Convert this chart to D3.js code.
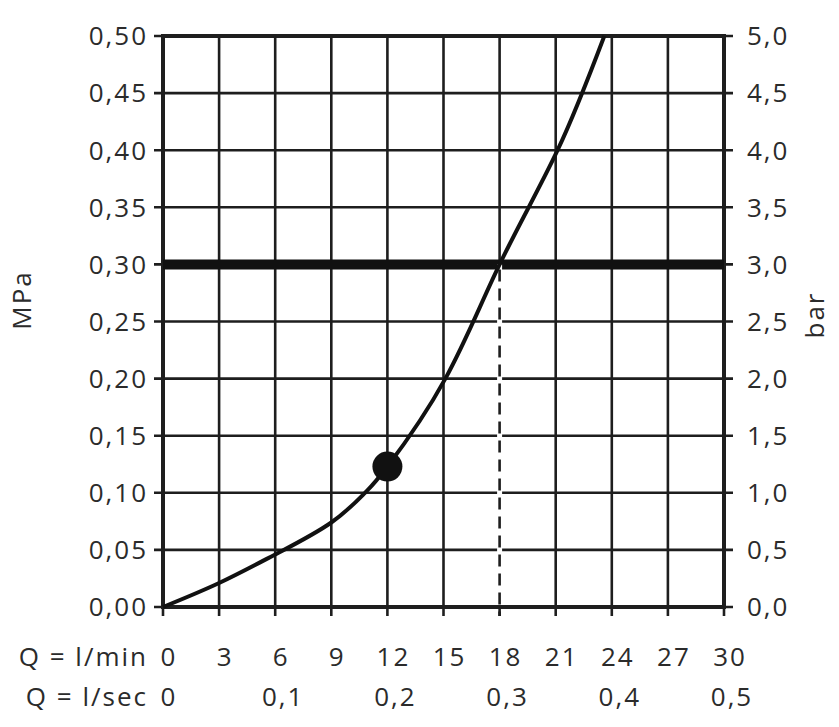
<!DOCTYPE html>
<html>
<head>
<meta charset="utf-8">
<script src="https://cdn.jsdelivr.net/npm/d3@7"></script>
<style>
  body { margin: 0; background: #fff; }
  svg text { font-family: "Open Sans", sans-serif; fill: #2b2b2b; font-size: 26px; letter-spacing: 2px; }
</style>
</head>
<body>
<svg id="chart" width="839" height="727"></svg>
<script>
// Flow (l/min) vs pressure (MPa)
const flowLmin = [0, 3, 6, 9, 10.8, 12, 15.1, 18, 21.1, 23.6];
const pressMPa = [0, 0.021, 0.046, 0.074, 0.100, 0.123, 0.20, 0.30, 0.40, 0.50];

const minTicks = [0, 3, 6, 9, 12, 15, 18, 21, 24, 27, 30];
const secTicks = [0, 0.1, 0.2, 0.3, 0.4, 0.5];
const mpaTicks = [0, 0.05, 0.10, 0.15, 0.20, 0.25, 0.30, 0.35, 0.40, 0.45, 0.50];
const barTicks = [0, 0.5, 1.0, 1.5, 2.0, 2.5, 3.0, 3.5, 4.0, 4.5, 5.0];

const limitMPa = 0.30;
const limitFlow = 18;
const markerPoint = { q: 12, p: 0.123 };

const L = 163, R = 724, T = 36, B = 607;
const x = d3.scaleLinear().domain([0, 30]).range([L, R]);
const y = d3.scaleLinear().domain([0, 0.5]).range([B, T]);
const yBar = d3.scaleLinear().domain([0, 5]).range([B, T]);
const fmt2 = v => v.toFixed(2).replace('.', ',');
const fmt1 = v => v.toFixed(1).replace('.', ',');
const ink = '#1e1e1e';

const svg = d3.select('#chart');

// grid
const grid = svg.append('g').attr('stroke', ink).attr('stroke-width', 2.6);
grid.selectAll('.v').data(minTicks).join('line')
  .attr('x1', d => x(d)).attr('x2', d => x(d)).attr('y1', T).attr('y2', B + 9);
grid.selectAll('.h').data(mpaTicks).join('line')
  .attr('x1', L - 9).attr('x2', R + 9).attr('y1', d => y(d)).attr('y2', d => y(d));

// frame
svg.append('rect').attr('x', L).attr('y', T).attr('width', R - L).attr('height', B - T)
  .attr('fill', 'none').attr('stroke', ink).attr('stroke-width', 4);

// left axis labels (MPa)
svg.append('g').selectAll('text').data(mpaTicks).join('text')
  .attr('x', 148).attr('y', d => y(d)).attr('dy', '0.36em')
  .attr('text-anchor', 'end').text(fmt2);

// right axis labels (bar)
svg.append('g').selectAll('text').data(barTicks).join('text')
  .attr('x', 747).attr('y', d => yBar(d)).attr('dy', '0.36em')
  .text(fmt1);

// bottom labels
svg.append('text').attr('x', 148).attr('y', 657).attr('dy', '0.36em')
  .attr('text-anchor', 'end').text('Q = l/min');
svg.append('g').selectAll('text').data(minTicks).join('text')
  .attr('x', d => x(d) + 6).attr('y', 657).attr('dy', '0.36em')
  .attr('text-anchor', 'middle').text(d => d);

svg.append('text').attr('x', 148).attr('y', 697).attr('dy', '0.36em')
  .attr('text-anchor', 'end').text('Q = l/sec');
svg.append('g').selectAll('text').data(secTicks).join('text')
  .attr('x', d => x(d * 60) + (d === 0 ? 6 : 8)).attr('y', 697).attr('dy', '0.36em')
  .attr('text-anchor', 'middle')
  .text(d => d === 0 ? '0' : fmt1(d));

// axis titles
svg.append('text').attr('transform', 'translate(31,300) rotate(-90)')
  .attr('text-anchor', 'middle').text('MPa');
svg.append('text').attr('transform', 'translate(824,315) rotate(-90)')
  .attr('text-anchor', 'middle').text('bar');

// limit line + dashed drop
svg.append('line').attr('x1', L).attr('x2', R)
  .attr('y1', y(limitMPa)).attr('y2', y(limitMPa))
  .attr('stroke', '#111').attr('stroke-width', 10);
svg.append('line').attr('x1', x(limitFlow)).attr('x2', x(limitFlow))
  .attr('y1', y(limitMPa)).attr('y2', B - 2)
  .attr('stroke', '#fff').attr('stroke-width', 5);
svg.append('line').attr('x1', x(limitFlow)).attr('x2', x(limitFlow))
  .attr('y1', y(limitMPa) + 5).attr('y2', B + 9)
  .attr('stroke', ink).attr('stroke-width', 2.6).attr('stroke-dasharray', '12,7');

// curve
const pts = flowLmin.map((q, i) => [q, pressMPa[i]]);
svg.append('path').datum(pts)
  .attr('fill', 'none').attr('stroke', '#111').attr('stroke-width', 4)
  .attr('d', d3.line().x(d => x(d[0])).y(d => y(d[1])).curve(d3.curveNatural));

svg.append('circle').attr('cx', x(markerPoint.q)).attr('cy', y(markerPoint.p))
  .attr('r', 15).attr('fill', '#111');
</script>
</body>
</html>
